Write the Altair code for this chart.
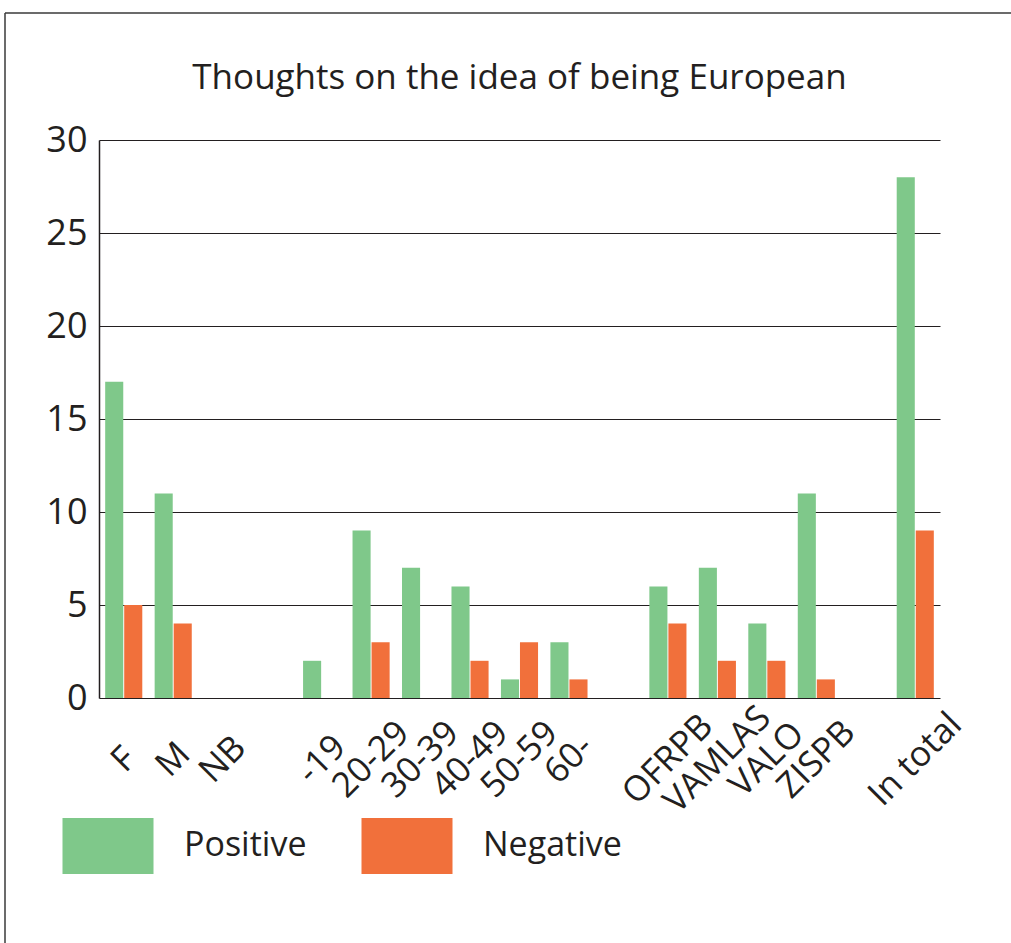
import altair as alt
import pandas as pd

# Survey answers: how people feel about the idea of being European
categories = ["F", "M", "NB", "-19", "20-29", "30-39", "40-49", "50-59", "60-",
              "OFRPB", "VAMLAS", "VALO", "ZISPB", "In total"]
positive = [17, 11, 0, 2, 9, 7, 6, 1, 3, 6, 7, 4, 11, 28]
negative = [5, 4, 0, 0, 3, 0, 2, 3, 1, 4, 2, 2, 1, 9]

# Slot order on the x axis; the blank entries leave gaps between the groups
x_order = ["F", "M", "NB", " ", "-19", "20-29", "30-39", "40-49", "50-59", "60-",
           "  ", "OFRPB", "VAMLAS", "VALO", "ZISPB", "   ", "In total"]
series = ["Positive", "Negative"]
colors = ["#7fc88a", "#f1703b"]
y_ticks = [0, 5, 10, 15, 20, 25, 30]

FONT = "Open Sans"
INK = "#231f20"

rows = []
for cat, p, n in zip(categories, positive, negative):
    rows.append({"group": cat, "answer": "Positive", "count": p})
    rows.append({"group": cat, "answer": "Negative", "count": n})
df = pd.DataFrame(rows)

# wide rectangular legend swatch
swatch = "M-0.8125,-0.5H0.8125V0.5H-0.8125Z"

bars = alt.Chart(df).mark_bar().encode(
    x=alt.X(
        "group:N",
        sort=x_order,
        scale=alt.Scale(domain=x_order, paddingInner=0.25, paddingOuter=0.125),
        axis=alt.Axis(title=None, ticks=False, domain=False, labelAngle=-45,
                      labelAlign="center", labelBaseline="middle",
                      labelFontSize=35, labelColor=INK, labelPadding=61,
                      labelFont=FONT),
    ),
    xOffset=alt.XOffset("answer:N", sort=series,
                        scale=alt.Scale(domain=series, paddingInner=0.05)),
    y=alt.Y(
        "count:Q",
        scale=alt.Scale(domain=[0, 30], nice=False),
        axis=alt.Axis(title=None, values=y_ticks, ticks=False, grid=True,
                      gridColor=INK, gridWidth=1.2, domainColor=INK,
                      domainWidth=1.5, labelFontSize=36, labelColor=INK,
                      labelPadding=12, labelFont=FONT),
    ),
    color=alt.Color(
        "answer:N",
        sort=series,
        scale=alt.Scale(domain=series, range=colors),
        legend=alt.Legend(title=None, orient="none", legendX=-47, legendY=650,
                          direction="horizontal", symbolType=swatch,
                          symbolSize=12544, symbolStrokeWidth=0,
                          labelFontSize=34, labelColor=INK, labelFont=FONT,
                          labelOffset=20, columnPadding=44),
    ),
)

# thin frame along the top and left edges
frame = pd.DataFrame({"k": [0]})
top_edge = alt.Chart(frame).mark_rule(color="#3a3a3a", strokeWidth=1.5).encode(
    x=alt.value(-94), x2=alt.value(915), y=alt.value(-127)
)
left_edge = alt.Chart(frame).mark_rule(color="#3a3a3a", strokeWidth=1.5).encode(
    x=alt.value(-94), y=alt.value(-127), y2=alt.value(810)
)

# the frame rule sits above the plot, so the title is pulled back down below it
chart = alt.layer(bars, top_edge, left_edge).properties(
    width=841,
    height=558,
    title=alt.TitleParams("Thoughts on the idea of being European",
                          fontSize=35, font=FONT, fontWeight="normal",
                          color=INK, anchor="middle", frame="group",
                          baseline="alphabetic", offset=-112),
    autosize=alt.AutoSizeParams(type="none"),
    padding={"left": 99, "top": 140, "right": 71, "bottom": 245},
    background="white",
).configure_view(stroke=None)

chart.save("out.html", embed_options={"renderer": "svg", "actions": False})
